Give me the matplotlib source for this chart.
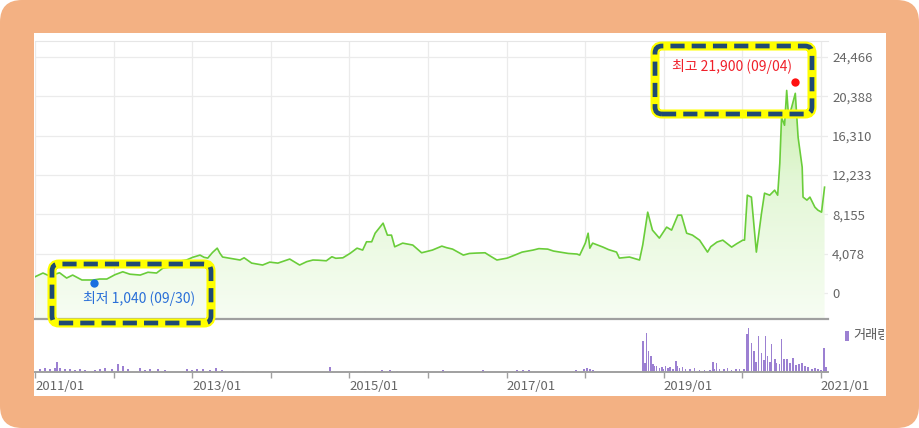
import numpy as np
import pandas as pd
import matplotlib
matplotlib.use("Agg")
import matplotlib.pyplot as plt
import matplotlib.dates as mdates
from matplotlib.patches import FancyBboxPatch, Rectangle, PathPatch
from matplotlib.transforms import IdentityTransform, Bbox
from matplotlib.colors import LinearSegmentedColormap

plt.rcParams['font.family'] = ['Noto Sans CJK KR', 'DejaVu Sans']

# price (closing, won)
price_dates = [
    '2011-01-03', '2011-02-07', '2011-03-10', '2011-04-25', '2011-05-28', '2011-06-25',
    '2011-08-07', '2011-09-30', '2011-10-28', '2011-12-01', '2012-01-08', '2012-02-13',
    '2012-03-17', '2012-05-04', '2012-06-09', '2012-07-19', '2012-08-18', '2012-09-27',
    '2012-11-02', '2012-12-05', '2013-01-03', '2013-02-06', '2013-02-25', '2013-03-14',
    '2013-04-05', '2013-04-27', '2013-05-10', '2013-05-22', '2013-06-25', '2013-08-11',
    '2013-08-30', '2013-10-04', '2013-11-24', '2013-12-27', '2014-02-03', '2014-03-30',
    '2014-05-15', '2014-06-17', '2014-07-16', '2014-08-10', '2014-09-16', '2014-10-12',
    '2014-10-30', '2014-12-02', '2015-01-04', '2015-02-06', '2015-03-04', '2015-03-22',
    '2015-04-15', '2015-05-01', '2015-06-07', '2015-06-27', '2015-07-16', '2015-07-31',
    '2015-09-06', '2015-10-23', '2015-12-03', '2015-12-27', '2016-01-22', '2016-03-06',
    '2016-03-28', '2016-04-25', '2016-06-14', '2016-07-12', '2016-08-14', '2016-09-23',
    '2016-10-12', '2016-11-17', '2017-01-04', '2017-02-05', '2017-03-14', '2017-05-04',
    '2017-05-31', '2017-07-11', '2017-08-07', '2017-09-06', '2017-10-15', '2017-11-24',
    '2017-12-07', '2018-01-02', '2018-01-15', '2018-01-23', '2018-02-05', '2018-03-25',
    '2018-04-20', '2018-05-27', '2018-06-09', '2018-07-26', '2018-09-11', '2018-09-26',
    '2018-10-19', '2018-11-10', '2018-12-12', '2019-01-15', '2019-02-07', '2019-03-08',
    '2019-03-25', '2019-04-18', '2019-05-15', '2019-06-17', '2019-07-24', '2019-08-08',
    '2019-09-06', '2019-10-03', '2019-11-13', '2019-12-06', '2020-01-04', '2020-01-12',
    '2020-01-25', '2020-02-13', '2020-03-07', '2020-03-31', '2020-04-14', '2020-05-08',
    '2020-05-31', '2020-06-14', '2020-06-24', '2020-07-02', '2020-07-16', '2020-07-26',
    '2020-08-04', '2020-08-18', '2020-09-04', '2020-09-17', '2020-10-06', '2020-10-10',
    '2020-10-28', '2020-11-11', '2020-12-04', '2020-12-18', '2021-01-04', '2021-01-18',
]
price_values = [
    1700, 2070, 1760, 2100, 1550, 1860,
    1350, 1350, 1450, 1450, 1900, 2200,
    1950, 1860, 2150, 2070, 2590, 2700,
    3300, 3420, 3700, 3930, 3700, 3620,
    4200, 4650, 4100, 3730, 3600, 3420,
    3650, 3100, 2900, 3200, 3100, 3520,
    2900, 3250, 3420, 3400, 3340, 3760,
    3600, 3650, 4100, 4650, 4450, 5310,
    5310, 6200, 7240, 6000, 6000, 4790,
    5170, 4970, 4170, 4300, 4450, 4860,
    4700, 4550, 3930, 4100, 4140, 4170,
    3900, 3420, 3620, 3900, 4240, 4450,
    4600, 4550, 4350, 4240, 4100, 4040,
    3930, 5170, 6200, 4650, 5170, 4760,
    4500, 4240, 3620, 3730, 3420, 5000,
    8380, 6520, 5690, 6830, 6520, 8070,
    8070, 6200, 6000, 5480, 4240, 4800,
    5280, 5480, 4760, 5100, 5480, 5480,
    10140, 9940, 4240, 8280, 10350, 10140,
    10660, 10140, 13460, 18220, 17390, 21000,
    18220, 19250, 20700, 16150, 13040, 9940,
    9630, 9940, 8900, 8590, 8380, 10970,
]

# volume (thousand shares)
vol_dates = [
    '2011-01-24', '2011-02-16', '2011-03-11', '2011-04-03', '2011-04-13', '2011-04-27',
    '2011-05-20', '2011-06-12', '2011-07-05', '2011-07-28', '2011-08-21', '2011-10-06',
    '2011-10-30', '2011-11-22', '2011-12-24', '2012-01-21', '2012-02-13', '2012-03-07',
    '2012-05-02', '2012-05-25', '2012-06-18', '2012-07-25', '2012-08-27', '2012-12-08',
    '2012-12-31', '2013-01-23', '2013-02-20', '2013-03-24', '2013-04-21', '2013-05-19',
    '2013-08-25', '2013-10-29', '2014-10-03', '2015-03-14', '2015-06-01', '2015-07-08',
    '2015-08-10', '2016-03-10', '2016-09-13', '2017-02-18', '2017-03-18', '2017-04-14',
    '2017-11-19', '2017-12-26', '2018-01-09', '2018-01-23', '2018-02-06',
    '2018-09-26', '2018-10-05', '2018-10-14', '2018-10-23', '2018-11-02', '2018-11-11',
    '2018-11-20', '2018-11-29', '2018-12-13', '2018-12-23', '2019-01-01', '2019-01-10',
    '2019-01-20', '2019-01-29', '2019-02-12', '2019-02-26', '2019-03-07', '2019-03-16',
    '2019-03-30', '2019-04-13', '2019-05-02', '2019-05-25', '2019-06-17', '2019-07-10',
    '2019-08-03', '2019-08-17', '2019-08-26', '2019-09-04', '2019-09-18', '2019-10-07',
    '2019-10-25', '2019-11-13', '2019-12-02', '2019-12-20', '2020-01-08', '2020-01-22',
    '2020-01-31', '2020-02-14', '2020-02-24', '2020-03-04', '2020-03-17', '2020-03-31',
    '2020-04-10', '2020-04-19', '2020-04-28', '2020-05-08', '2020-05-17', '2020-05-31',
    '2020-06-09', '2020-06-23', '2020-07-02', '2020-07-12', '2020-07-26', '2020-08-09',
    '2020-08-23', '2020-09-06', '2020-09-20', '2020-10-04', '2020-10-18', '2020-11-01',
    '2020-11-19', '2020-12-03', '2020-12-17', '2021-01-01', '2021-01-14', '2021-01-24',
]
vol_values = [
    300, 400, 300, 400, 1000, 400,
    300, 300, 200, 300, 200, 200,
    300, 400, 300, 800, 600, 300,
    400, 200, 300, 300, 200, 300,
    200, 300, 300, 200, 400, 200,
    100, 100, 500, 100, 200, 200,
    100, 200, 200, 200, 200, 200,
    200, 300, 400, 300, 200,
    3100, 900, 3900, 2100, 1600, 800,
    600, 600, 400, 500, 300, 600,
    400, 500, 300, 1100, 600, 400,
    500, 300, 300, 400, 200, 200,
    200, 1000, 300, 900, 300, 300,
    400, 200, 300, 300, 300, 3800,
    4400, 2900, 2100, 1000, 3600, 1900,
    1200, 3600, 1600, 1000, 2800, 1300,
    900, 800, 3300, 1300, 1300, 900,
    1400, 700, 800, 900, 600, 500,
    300, 400, 300, 200, 2400, 500,
]

y_ticks = [0, 4078, 8155, 12233, 16310, 20388, 24466]
x_years = list(range(2011, 2022))
high_date, high_value, high_label = '2020-09-04', 21900, '최고 21,900 (09/04)'
low_date, low_value, low_label = '2011-09-30', 1040, '최저 1,040 (09/30)'

W, H = 919, 428
fig = plt.figure(figsize=(W / 100, H / 100), dpi=100)
fig.patch.set_facecolor('white')
px = IdentityTransform()

# orange frame + white panel
fig.add_artist(FancyBboxPatch((0, 0), W, H, boxstyle='round,pad=0,rounding_size=22',
                              transform=px, fc='#f3b183', ec='none', zorder=-5))
fig.add_artist(Rectangle((34, H - 396), 852, 363, transform=px, fc='white', ec='none', zorder=-4))

x0, x1 = 35, 828
ax = fig.add_axes([x0 / W, (H - 319) / H, (x1 - x0) / W, 278 / H])
axv = fig.add_axes([x0 / W, (H - 372) / H, (x1 - x0) / W, 52 / H])
for a in (ax, axv):
    a.set_facecolor('none')

d_price = pd.to_datetime(price_dates)
d_vol = pd.to_datetime(vol_dates)
xmin, xmax = pd.Timestamp('2011-01-01'), pd.Timestamp('2021-02-03')
ymin, ymax = -2695, 26125

# gradient area
poly = ax.fill_between(d_price, price_values, ymin, color='none', lw=0)
clip = PathPatch(poly.get_paths()[0], transform=ax.transData, fc='none', ec='none')
ax.add_patch(clip)
cmap = LinearSegmentedColormap.from_list('g', ['#f7fdf3', '#e3f7d6', '#b9ea93'])
grad = np.linspace(0, 1, 256).reshape(-1, 1)
img = ax.imshow(grad, cmap=cmap, origin='lower', aspect='auto', zorder=1,
                extent=[mdates.date2num(xmin), mdates.date2num(xmax), ymin, ymax])
img.set_clip_path(clip)

ax.plot(d_price, price_values, color='#6acd3a', lw=1.2, zorder=3)
ax.plot(pd.Timestamp(high_date), high_value, 'o', color='#ff1010', ms=6, mec='none', zorder=4)
ax.plot(pd.Timestamp(low_date), low_value, 'o', color='#1a6fe0', ms=6, mec='none', zorder=4)

ax.set_xlim(xmin, xmax)
ax.set_ylim(ymin, ymax)
ax.set_xticks([pd.Timestamp(f'{y}-01-01') for y in x_years])
ax.set_yticks(y_ticks)
ax.set_yticklabels([f'{v:,}' for v in y_ticks])
ax.yaxis.tick_right()
ax.tick_params(axis='x', length=0, labelbottom=False)
ax.tick_params(axis='y', length=0, pad=3, labelsize=9.5, labelcolor='#666666')
ax.grid(True, color='#ebebeb', lw=0.9, zorder=0)
ax.set_axisbelow(True)
for s in ('left', 'right'):
    ax.spines[s].set_visible(False)
ax.spines['top'].set_color('#e6e6e6')
ax.spines['bottom'].set_color('#a0a0a0')
ax.spines['bottom'].set_linewidth(1.6)

# volume bars
axv.bar(d_vol, vol_values, width=8, color='#9c80d2', lw=0)
axv.set_xlim(xmin, xmax)
axv.set_ylim(0, 5150)
axv.set_yticks([])
tick_pos = [pd.Timestamp(f'{y}-01-01') for y in x_years]
axv.set_xticks(tick_pos)
axv.set_xticklabels([f'{y}/01' if y % 2 == 1 else '' for y in x_years], ha='left')
axv.tick_params(axis='x', length=4, width=1, color='#a0a0a0', pad=2,
                labelsize=9.5, labelcolor='#666666')
for s in ('left', 'right', 'top'):
    axv.spines[s].set_visible(False)
axv.spines['bottom'].set_color('#a0a0a0')
axv.spines['bottom'].set_linewidth(1.4)

# volume legend (clipped at panel edge)
fig.add_artist(Rectangle((845, H - 341), 4, 10, transform=px, fc='#9c80d2', ec='none'))
leg = fig.text(853, H - 336, '거래량', transform=px, fontsize=9.5, color='#555555',
               ha='left', va='center')
leg.set_clip_box(Bbox.from_extents(34, 0, 884, H))
leg.set_clip_on(True)

# highlighted annotation boxes
for (bx0, by0, bx1, by1) in [(655, 46, 812, 114), (52, 264, 211, 323)]:
    for ec, lw, ls in [('#ffff00', 6.5, '-'), ('#1f4a73', 3.4, (0, (3.0, 1.5)))]:
        fig.add_artist(FancyBboxPatch((bx0, H - by1), bx1 - bx0, by1 - by0,
                                      boxstyle='round,pad=0,rounding_size=7', transform=px,
                                      fc='none', ec=ec, lw=lw, ls=ls, zorder=10))

fig.text(672, H - 66, high_label, transform=px, fontsize=10, color='#f0202a',
         ha='left', va='center', zorder=11)
fig.text(83, H - 299, low_label, transform=px, fontsize=10, color='#2a6fd8',
         ha='left', va='center', zorder=11)

fig.savefig('out.png', dpi=100)
